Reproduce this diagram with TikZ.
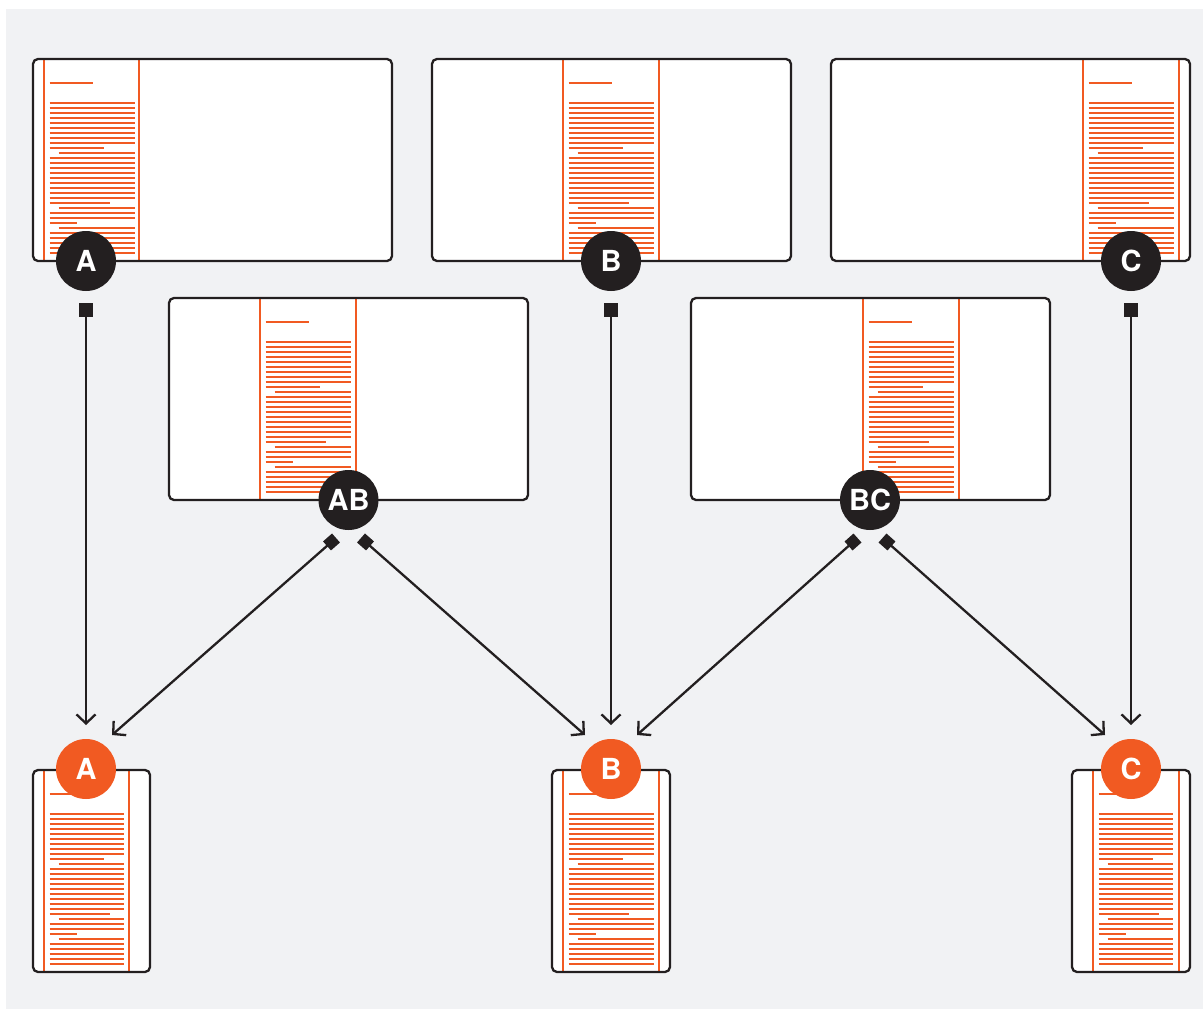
\documentclass[tikz,border=0pt]{standalone}
\usepackage{fontspec}
\setmainfont{TeX Gyre Heros}
\usepackage{tikz}
\usetikzlibrary{arrows.meta,calc}

\definecolor{ink}{HTML}{231F20}
\definecolor{rust}{HTML}{F15A22}
\definecolor{panel}{HTML}{F1F2F4}

% a sheet with one column of page text
% #1-#4 = sheet corners, #5 = left rule of column, #6 = column width, #7 = line length
\newcommand{\sheet}[7]{%
  \fill[white, rounded corners=5pt] (#1,#2) rectangle (#3,#4);
  \draw[colrule] (#5,#2) -- (#5,#4);
  \draw[colrule] (#5+#6,#2) -- (#5+#6,#4);
  \draw[textrule] (#5+5.5,#2+24) -- ++(43,0);
  \foreach \i in {0,...,30}{
    \pgfmathsetmacro\xa{(\i==10 || \i==21 || \i==25) ? 9 : 0}
    \pgfmathsetmacro\xb{(\i==9) ? 54 : ((\i==20) ? 60 : ((\i==24) ? 27 : #7))}
    \draw[textrule] (#5+5.5+\xa,#2+44+5*\i) -- (#5+5.5+\xb,#2+44+5*\i);
  }
  \draw[frame] (#1,#2) rectangle (#3,#4);
}

\begin{document}
\begin{tikzpicture}[x=1pt, y=-1pt,
    colrule/.style={draw=rust, line width=2pt},
    textrule/.style={draw=rust, line width=2.6pt},
    frame/.style={draw=ink, line width=2.3pt, rounded corners=5pt},
    badge/.style={circle, fill=ink, text=white, minimum size=60pt, inner sep=0pt,
      font=\bfseries\fontsize{29}{29}\selectfont},
    feed/.style={draw=ink, line width=2.3pt, -{Straight Barb[length=9pt,width=19pt]}},
    boxtail/.style={{Square[length=14pt,width=14pt]}-{Straight Barb[length=9pt,width=19pt]}},
    diamondtail/.style={{Square[length=12pt,width=12pt]}-{Straight Barb[length=9pt,width=19pt]}}]
  \useasboundingbox (0,0) rectangle (1203,1009);
  \fill[panel] (6,9) rectangle (1203,1009);

  % top row
  \sheet{33}{59}{392}{261}{44}{95}{85}
  \sheet{432}{59}{791}{261}{563}{96}{85}
  \sheet{831}{59}{1190}{261}{1083}{96}{85}
  % middle row
  \sheet{169}{298}{528}{500}{260}{96}{85}
  \sheet{691}{298}{1050}{500}{863}{96}{85}
  % bottom row
  \sheet{33}{770}{150}{972}{44}{85}{74}
  \sheet{552}{770}{670}{972}{563}{96}{85}
  \sheet{1072}{770}{1190}{972}{1093}{86}{74}

  \node[badge] (a1) at (86,261) {A};
  \node[badge] (b1) at (611,261) {B};
  \node[badge] (c1) at (1131,261) {C};
  \node[badge] (ab) at (348.5,500) {AB};
  \node[badge] (bc) at (870,500) {BC};
  \node[badge, fill=rust] (a2) at (86,769) {A};
  \node[badge, fill=rust] (b2) at (611,769) {B};
  \node[badge, fill=rust] (c2) at (1131,769) {C};

  \draw[feed, boxtail] ($(a1)+(0,42)$) -- ($(a2)+(0,-44)$);
  \draw[feed, boxtail] ($(b1)+(0,42)$) -- ($(b2)+(0,-44)$);
  \draw[feed, boxtail] ($(c1)+(0,42)$) -- ($(c2)+(0,-44)$);
  \draw[feed, diamondtail] ($(ab)+(-12.5,38)$) -- ($(a2)+(26,-34)$);
  \draw[feed, diamondtail] ($(ab)+(12.5,38)$) -- ($(b2)+(-26,-34)$);
  \draw[feed, diamondtail] ($(bc)+(-12.5,38)$) -- ($(b2)+(26,-34)$);
  \draw[feed, diamondtail] ($(bc)+(12.5,38)$) -- ($(c2)+(-26,-34)$);
\end{tikzpicture}
\end{document}
